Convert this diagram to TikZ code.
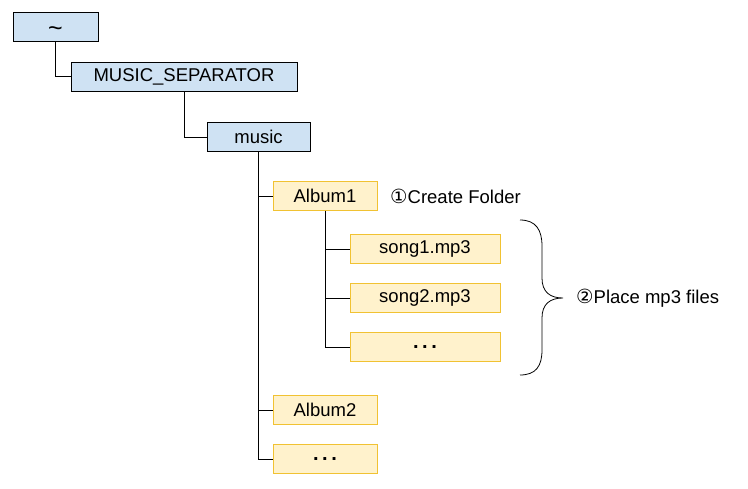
\documentclass[tikz,border=0pt]{standalone}
\usepackage{fontspec}
\setmainfont{Liberation Sans}
\newfontfamily\circfont{DejaVu Sans}
\usetikzlibrary{positioning,calc}
\definecolor{dirfill}{HTML}{CFE2F3}
\definecolor{filefill}{HTML}{FFF2CC}
\definecolor{filedraw}{HTML}{F1C232}
\tikzset{
  dblock/.style = {rectangle, draw=black, fill=dirfill, line width=0.9pt,
                   text centered, minimum height=29pt, inner sep=0pt,
                   font=\fontsize{18.5}{20}\selectfont},
  fblock/.style = {rectangle, draw=filedraw, fill=filefill, line width=0.9pt,
                   text centered, minimum height=29pt, inner sep=0pt,
                   font=\fontsize{18.5}{20}\selectfont},
  note/.style   = {anchor=west, inner sep=0pt, font=\fontsize{18.5}{20}\selectfont},
  conn/.style   = {draw=black, line width=0.9pt},
}
\newcommand{\moredots}{\textbf{\fontsize{20}{20}\selectfont.\hspace{3.5pt}.\hspace{3.5pt}.}}
\newcommand{\circnum}[1]{{\circfont\fontsize{19.5}{20}\selectfont #1}}

\begin{document}
\begin{tikzpicture}[x=1pt, y=-1pt]
\useasboundingbox (0,0) rectangle (748,488);

%% Folders
\node[dblock, minimum width=85pt]  (home)  at (55.5,27)
  {\raisebox{-9pt}[0pt][0pt]{\fontsize{25}{25}\selectfont\textasciitilde}};
\node[dblock, minimum width=226pt] (sep)   at (184,76.5) {MUSIC\_SEPARATOR};
\node[dblock, minimum width=103pt] (music) at (258.5,137) {music};

%% Albums
\node[fblock, minimum width=104pt] (album1)    at (325,196) {Album1};
\node[fblock, minimum width=104pt] (album2)    at (325,410) {Album2};
\node[fblock, minimum width=104pt] (albummore) at (325,459) {\moredots};

%% Songs
\node[fblock, minimum width=150pt] (song1)    at (425,249) {song1.mp3};
\node[fblock, minimum width=150pt] (song2)    at (425,298) {song2.mp3};
\node[fblock, minimum width=150pt] (songmore) at (425,347) {\moredots};

\draw[conn] (home)  |- (sep.west);
\draw[conn] (sep)   |- (music.west);
\draw[conn] (music) |- (album1.west);
\draw[conn] (music) |- (album2.west);
\draw[conn] (music) |- (albummore.west);
\draw[conn] (album1) |- (song1.west);
\draw[conn] (album1) |- (song2.west);
\draw[conn] (album1) |- (songmore.west);

%% Notes
\node[note] (create) at (390,196) {\circnum{①}Create Folder};
\node[note] (place)  at (576,298) {\circnum{②}Place mp3 files};

%% Brace
\coordinate (btop) at (520,220);
\coordinate (bbot) at (520,375);
\coordinate (btip) at (563,298);
\draw[conn, line width=0.8pt] (btop) .. controls (536,220) and (542,230) .. (542,246)
  -- (542,278) .. controls (542,292) and (550,298) .. (btip)
  .. controls (550,298) and (542,304) .. (542,318)
  -- (542,350) .. controls (542,366) and (536,375) .. (bbot);

\end{tikzpicture}
\end{document}
